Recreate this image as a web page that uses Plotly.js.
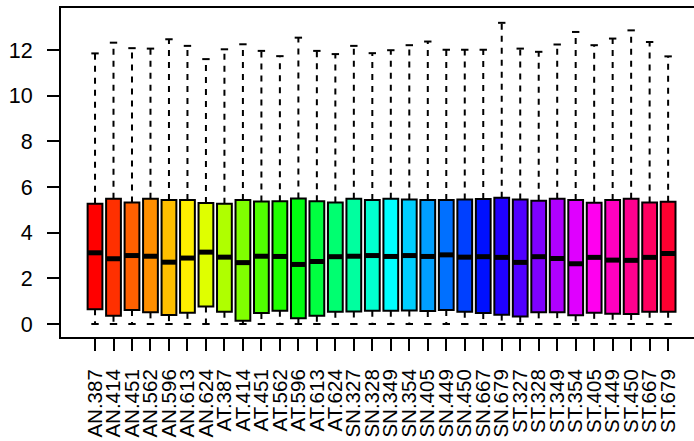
<!DOCTYPE html>
<html>
<head>
<meta charset="utf-8">
<script src="https://cdn.plot.ly/plotly-3.0.1.min.js"></script>
<style>html,body{margin:0;padding:0;background:#fff;}#chart{width:694px;height:441px;}</style>
</head>
<body>
<div id="chart"></div>
<script>
const labels = ["AN.387","AN.414","AN.451","AN.562","AN.596","AN.613","AN.624",
  "AT.387","AT.414","AT.451","AT.562","AT.596","AT.613","AT.624",
  "SN.327","SN.328","SN.349","SN.354","SN.405","SN.449","SN.450","SN.667","SN.679",
  "ST.327","ST.328","ST.349","ST.354","ST.405","ST.449","ST.450","ST.667","ST.679"];
const upper = [11.86,12.33,12.09,12.07,12.48,12.19,11.61,12.04,12.26,11.97,11.74,12.55,11.97,11.83,12.19,
  11.87,12.00,12.22,12.38,12.02,12.02,12.02,13.20,12.07,11.93,12.25,12.80,12.22,12.51,12.87,12.36,11.73];
const q3 = [5.27,5.49,5.33,5.49,5.44,5.44,5.30,5.27,5.43,5.37,5.38,5.50,5.38,5.33,5.49,
  5.44,5.49,5.46,5.43,5.44,5.46,5.48,5.53,5.46,5.40,5.49,5.44,5.31,5.43,5.49,5.33,5.36];
const median = [3.12,2.86,3.00,2.97,2.71,2.89,3.15,2.93,2.69,2.97,2.96,2.61,2.74,2.95,2.97,
  3.00,2.96,3.00,2.96,3.03,2.93,2.95,2.92,2.70,2.95,2.87,2.64,2.92,2.80,2.79,2.92,3.09];
const q1 = [0.65,0.36,0.61,0.51,0.39,0.49,0.77,0.54,0.14,0.48,0.58,0.25,0.36,0.54,0.55,
  0.58,0.58,0.59,0.57,0.61,0.54,0.48,0.41,0.33,0.51,0.52,0.38,0.49,0.45,0.44,0.54,0.54];
const lower = [0,0,0,0,0,0,0,0,0,0,0,0,0,0,0,0,0,0,0,0,0,0,0,0,0,0,0,0,0,0,0,0];

const n = labels.length;
const pos = labels.map((_, i) => i + 1);
// R rainbow(n): hue i/n, full saturation and value
const colors = pos.map((_, i) => `hsl(${(i / n) * 360},100%,50%)`);

function segs(x0f, x1f, y0arr, y1arr) {
  const xs = [], ys = [];
  for (let i = 0; i < n; i++) {
    xs.push(x0f(pos[i]), x1f(pos[i]), null);
    ys.push(y0arr[i], y1arr[i], null);
  }
  return {xs, ys};
}
const boxHalf = 0.4, stapleHalf = 0.2;
const wUp = segs(p => p, p => p, q3, upper);
const wLo = segs(p => p, p => p, q1, lower);
const sUp = segs(p => p - stapleHalf, p => p + stapleHalf, upper, upper);
const sLo = segs(p => p - stapleHalf, p => p + stapleHalf, lower, lower);
const med = segs(p => p - boxHalf, p => p + boxHalf, median, median);

const traces = [
  {type: 'scatter', mode: 'lines', x: wUp.xs.concat(wLo.xs), y: wUp.ys.concat(wLo.ys),
   line: {color: '#000', width: 2, dash: '6px,6px'}, hoverinfo: 'skip', showlegend: false},
  {type: 'scatter', mode: 'lines', x: sUp.xs.concat(sLo.xs), y: sUp.ys.concat(sLo.ys),
   line: {color: '#000', width: 2}, hoverinfo: 'skip', showlegend: false},
  {type: 'bar', x: pos, base: q1, y: q3.map((v, i) => v - q1[i]), width: 0.8,
   marker: {color: colors, line: {color: '#000', width: 2}}, showlegend: false},
  {type: 'scatter', mode: 'lines', x: med.xs, y: med.ys,
   line: {color: '#000', width: 5}, hoverinfo: 'skip', showlegend: false}
];

const layout = {
  width: 694, height: 441,
  margin: {l: 61, r: 0, t: 8, b: 104},
  paper_bgcolor: '#fff', plot_bgcolor: '#fff',
  font: {family: 'Liberation Sans, Arial, sans-serif', color: '#000', size: 20},
  xaxis: {range: [-0.84, 33.40], tickvals: pos, ticktext: labels, tickangle: -90,
    ticks: 'outside', ticklen: 12, tickwidth: 2, tickcolor: '#000',
    showline: true, linecolor: '#000', linewidth: 2, mirror: true,
    showgrid: false, zeroline: false, tickfont: {size: 20.5}, ticklabelstandoff: 10},
  yaxis: {range: [-0.57, 13.85], tickvals: [0, 2, 4, 6, 8, 10, 12],
    ticks: 'outside', ticklen: 12, tickwidth: 2, tickcolor: '#000',
    showline: true, linecolor: '#000', linewidth: 2,
    showgrid: false, zeroline: false, tickfont: {size: 21.5}, ticklabelstandoff: 10},
  bargap: 0
};
Plotly.newPlot('chart', traces, layout, {staticPlot: true, displayModeBar: false});
</script>
</body>
</html>
